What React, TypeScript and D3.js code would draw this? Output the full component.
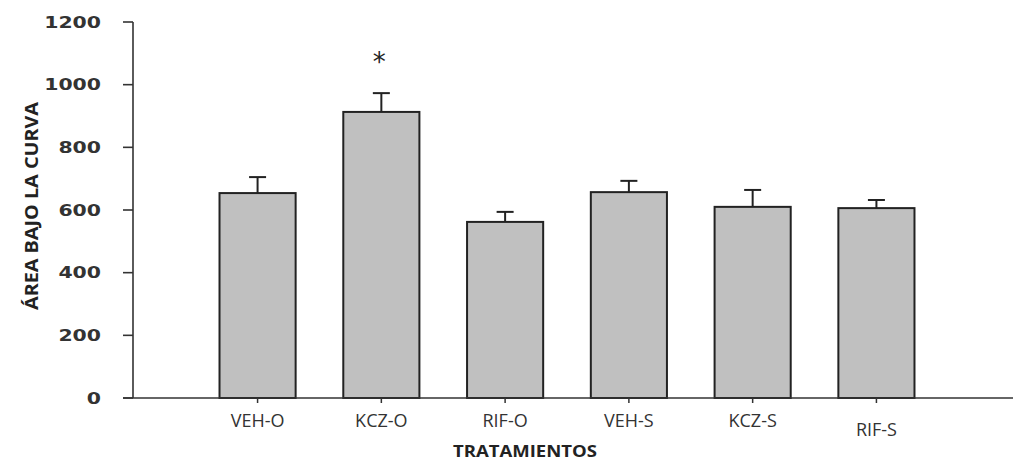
import React from "react";
import * as d3 from "d3";

const categories = ["VEH-O", "KCZ-O", "RIF-O", "VEH-S", "KCZ-S", "RIF-S"];
const means = [654, 913, 562, 657, 610, 606];
const errors = [51, 60, 32, 36, 54, 26];
const significant = [false, true, false, false, false, false];
const yTicks = [0, 200, 400, 600, 800, 1000, 1200];
const labelDrop = [0, 0, 0, 0, 0, 9];

const W = 1013;
const H = 462;

export default function App() {
  const y = d3.scaleLinear().domain([0, 1200]).range([398, 22]);
  const x = d3.scaleBand<string>().domain(categories).range([196, 938]).paddingInner(0.385).paddingOuter(0.19);
  const bw = x.bandwidth();
  const axisColor = "#333";
  const tickFont = "'DejaVu Sans', sans-serif";

  return (
    <svg width={W} height={H} style={{ position: "absolute", left: 0, top: 0, background: "#fff" }}>
      {/* y axis */}
      <line x1={133} x2={133} y1={y(1200)} y2={y(0)} stroke={axisColor} strokeWidth={1.6} />
      {yTicks.map((t) => (
        <g key={t}>
          <line x1={123} x2={133} y1={y(t)} y2={y(t)} stroke={axisColor} strokeWidth={1.6} />
          <text
            x={101}
            y={y(t) + 5.5}
            textAnchor="end"
            fontFamily={tickFont}
            fontSize={15}
            fontWeight="bold"
            fill="#333"
            textLength={String(t).length * 14.2}
            lengthAdjust="spacingAndGlyphs"
          >
            {t}
          </text>
        </g>
      ))}
      <text
        transform={`translate(38,206) rotate(-90)`}
        textAnchor="middle"
        fontFamily="'Open Sans', sans-serif"
        fontSize={17}
        fontWeight="bold"
        fill="#222"
        textLength={208}
        lengthAdjust="spacingAndGlyphs"
      >
        ÁREA BAJO LA CURVA
      </text>

      {/* bars */}
      {categories.map((c, i) => {
        const x0 = x(c)!;
        const cx = x0 + bw / 2;
        return (
          <g key={c}>
            <line x1={cx} x2={cx} y1={y(means[i])} y2={y(means[i] + errors[i])} stroke="#222" strokeWidth={2} />
            <line x1={cx - 8.5} x2={cx + 8.5} y1={y(means[i] + errors[i])} y2={y(means[i] + errors[i])} stroke="#222" strokeWidth={2} />
            <rect x={x0} y={y(means[i])} width={bw} height={y(0) - y(means[i])} fill="#c0c0c0" stroke="#222" strokeWidth={2} />
            <line x1={cx} x2={cx} y1={y(0)} y2={y(0) + 5} stroke={axisColor} strokeWidth={1.5} />
            <text
              x={cx}
              y={427 + labelDrop[i]}
              textAnchor="middle"
              fontFamily="'Open Sans', sans-serif"
              fontSize={18}
              fill="#333"
            >
              {c}
            </text>
            {significant[i] && (
              <text x={cx - 2} y={y(means[i] + errors[i]) - 22} textAnchor="middle" fontFamily="'DejaVu Sans', sans-serif" fontSize={26} fill="#222">
                *
              </text>
            )}
          </g>
        );
      })}

      {/* x axis */}
      <line x1={123} x2={W} y1={y(0)} y2={y(0)} stroke={axisColor} strokeWidth={1.6} />
      <text x={525} y={457} textAnchor="middle" fontFamily="'Open Sans', sans-serif" fontSize={16.5} fontWeight="bold" fill="#222" textLength={144} lengthAdjust="spacingAndGlyphs">
        TRATAMIENTOS
      </text>
    </svg>
  );
}
